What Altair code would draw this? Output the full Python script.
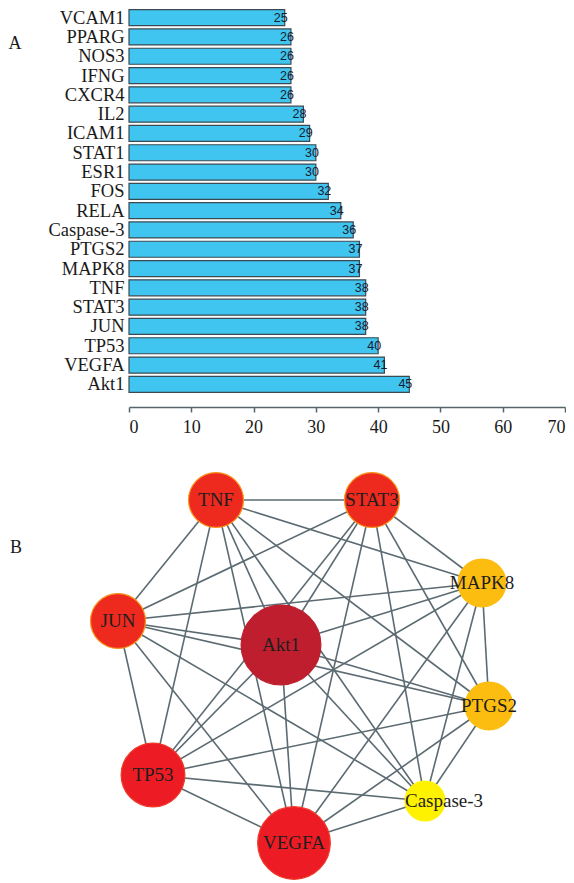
import altair as alt
import pandas as pd

# ---------------- data: panel A ----------------
genes = ["VCAM1", "PPARG", "NOS3", "IFNG", "CXCR4", "IL2", "ICAM1", "STAT1", "ESR1", "FOS",
         "RELA", "Caspase-3", "PTGS2", "MAPK8", "TNF", "STAT3", "JUN", "TP53", "VEGFA", "Akt1"]
degrees = [25, 26, 26, 26, 26, 28, 29, 30, 30, 32, 34, 36, 37, 37, 38, 38, 38, 40, 41, 45]
x_ticks = [0, 10, 20, 30, 40, 50, 60, 70]

# ---------------- data: panel B (network) ----------------
net_nodes = ["Akt1", "VEGFA", "TP53", "JUN", "TNF", "STAT3", "MAPK8", "PTGS2", "Caspase-3"]
net_degree = [45, 41, 40, 38, 38, 38, 37, 37, 36]
layout_x = [282, 295, 154, 119, 217, 373, 483, 490, 426]
layout_y = [647, 845, 777, 623, 502, 502, 585, 708, 803]
edges = [
    ("Akt1", "VEGFA"), ("Akt1", "TP53"), ("Akt1", "JUN"), ("Akt1", "TNF"), ("Akt1", "STAT3"),
    ("Akt1", "MAPK8"), ("Akt1", "PTGS2"), ("Akt1", "Caspase-3"),
    ("VEGFA", "TP53"), ("VEGFA", "JUN"), ("VEGFA", "TNF"), ("VEGFA", "STAT3"),
    ("VEGFA", "MAPK8"), ("VEGFA", "PTGS2"), ("VEGFA", "Caspase-3"),
    ("TP53", "JUN"), ("TP53", "TNF"), ("TP53", "STAT3"), ("TP53", "MAPK8"),
    ("TP53", "PTGS2"), ("TP53", "Caspase-3"),
    ("JUN", "TNF"), ("JUN", "STAT3"), ("JUN", "MAPK8"), ("JUN", "PTGS2"), ("JUN", "Caspase-3"),
    ("TNF", "STAT3"), ("TNF", "MAPK8"), ("TNF", "PTGS2"), ("TNF", "Caspase-3"),
    ("STAT3", "MAPK8"), ("STAT3", "PTGS2"), ("STAT3", "Caspase-3"),
    ("MAPK8", "PTGS2"), ("MAPK8", "Caspase-3"),
    ("PTGS2", "Caspase-3"),
]

deg_levels = [36, 37, 38, 40, 41, 45]
node_area = [1590, 2290, 3019, 4072, 5281, 6362]
node_fill = ["#FFF200", "#FDBD10", "#EE2A1E", "#ED1C24", "#ED1C24", "#BE1E2D"]
node_edge = ["#FFF200", "#FDBD10", "#F7941D", "#EE3A2A", "#EE3A2A", "#BE1E2D"]

SERIF = "Liberation Serif"
SANS = "Liberation Sans"

# ---------------- panel A ----------------
bar_df = pd.DataFrame({"gene": genes, "degree": degrees})

y_enc = alt.Y("gene:N", sort=genes,
              scale=alt.Scale(paddingInner=0.17, paddingOuter=0.085),
              axis=alt.Axis(title=None, domain=False, ticks=False, labelFont=SERIF,
                            labelFontSize=18.5, labelColor="#1a1a1a", labelPadding=5))
x_enc = alt.X("degree:Q", scale=alt.Scale(domain=[0, 70], nice=False),
              axis=alt.Axis(values=x_ticks, title=None, grid=False, offset=13, tickSize=5,
                            domainColor="#56646b", tickColor="#56646b", domainWidth=1.5,
                            tickWidth=1.5, labelFont=SERIF, labelFontSize=18,
                            labelColor="#1a1a1a", labelPadding=6))

bars = alt.Chart(bar_df).mark_bar(color="#3FC5F0", stroke="#3b4a52", strokeWidth=1.2).encode(
    x=x_enc, y=y_enc)
bar_text = alt.Chart(bar_df).mark_text(align="right", baseline="middle", dx=3, font=SANS,
                                       fontSize=12.5, color="#1a2030").encode(
    x="degree:Q", y=alt.Y("gene:N", sort=genes), text="degree:Q")
label_a = alt.Chart(pd.DataFrame({"t": ["A"]})).mark_text(
    font=SERIF, fontSize=18, color="#1a1a1a", align="center", baseline="middle").encode(
    text="t:N", x=alt.value(-114), y=alt.value(36))

panel_a = alt.layer(bars, bar_text, label_a).properties(width=436, height=386)

# ---------------- panel B ----------------
pos = dict(zip(net_nodes, zip(layout_x, layout_y)))
edge_df = pd.DataFrame({
    "x": [pos[a][0] for a, b in edges], "y": [pos[a][1] for a, b in edges],
    "x2": [pos[b][0] for a, b in edges], "y2": [pos[b][1] for a, b in edges],
})
node_df = pd.DataFrame({"name": net_nodes, "deg": net_degree, "x": layout_x, "y": layout_y})

xs = alt.Scale(domain=[130, 566], nice=False, zero=False)
ys = alt.Scale(domain=[450, 880], nice=False, zero=False, reverse=True)

edge_layer = alt.Chart(edge_df).mark_rule(color="#5c6b72", strokeWidth=1.6).encode(
    x=alt.X("x:Q", scale=xs, axis=None), y=alt.Y("y:Q", scale=ys, axis=None),
    x2="x2:Q", y2="y2:Q")
node_layer = alt.Chart(node_df).mark_circle(opacity=1, strokeWidth=1.2).encode(
    x=alt.X("x:Q", scale=xs, axis=None), y=alt.Y("y:Q", scale=ys, axis=None),
    size=alt.Size("deg:Q", scale=alt.Scale(domain=deg_levels, range=node_area), legend=None),
    color=alt.Color("deg:O", scale=alt.Scale(domain=deg_levels, range=node_fill), legend=None),
    stroke=alt.Stroke("deg:O", scale=alt.Scale(domain=deg_levels, range=node_edge), legend=None))
name_layer = alt.Chart(node_df).transform_filter(alt.datum.name != "Caspase-3").mark_text(
    font=SERIF, fontSize=19, color="#1e1e1e", align="center", baseline="middle").encode(
    x=alt.X("x:Q", scale=xs, axis=None), y=alt.Y("y:Q", scale=ys, axis=None), text="name:N")
casp_layer = alt.Chart(node_df).transform_filter(alt.datum.name == "Caspase-3").mark_text(
    font=SERIF, fontSize=19, color="#1e1e1e", align="left", baseline="middle", dx=-20).encode(
    x=alt.X("x:Q", scale=xs, axis=None), y=alt.Y("y:Q", scale=ys, axis=None), text="name:N")
label_b = alt.Chart(pd.DataFrame({"t": ["B"]})).mark_text(
    font=SERIF, fontSize=18, color="#1a1a1a", align="center", baseline="middle").encode(
    text="t:N", x=alt.value(-113), y=alt.value(100))

panel_b = alt.layer(edge_layer, node_layer, name_layer, casp_layer, label_b).properties(
    width=436, height=430)

chart = alt.vconcat(panel_a, panel_b, spacing=12).properties(
    padding={"left": 0, "top": 0, "right": 0, "bottom": 0}
).configure_view(stroke=None)

chart.save("out.html", embed_options={"renderer": "svg", "actions": False})
